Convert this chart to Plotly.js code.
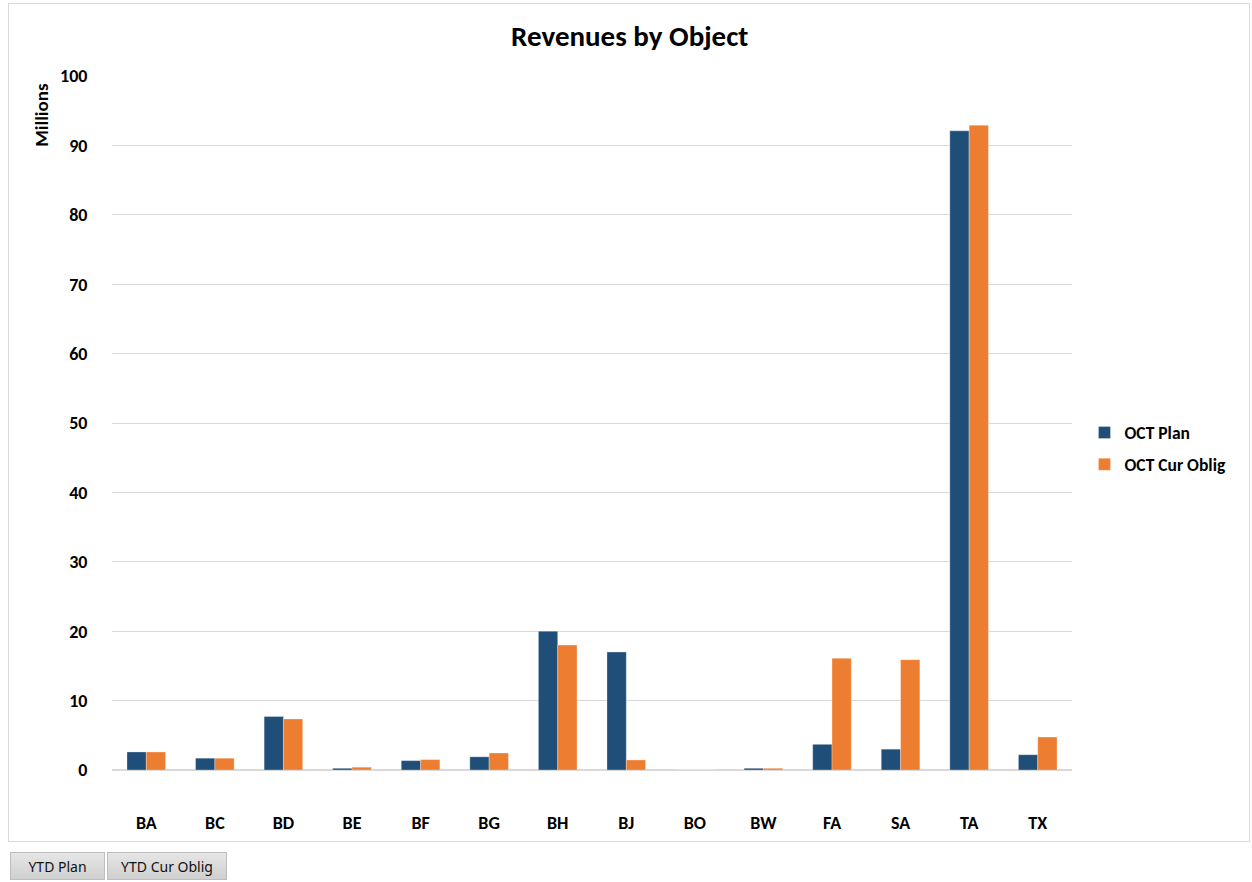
<!DOCTYPE html>
<html>
<head>
<meta charset="utf-8">
<script src="https://cdn.plot.ly/plotly-3.0.1.min.js"></script>
<style>
  html, body { margin: 0; padding: 0; background: #ffffff; }
  #frame { position: absolute; left: 8px; top: 3px; width: 1242px; height: 839px; border: 1px solid #d9d9d9; box-sizing: border-box; }
  #chart { position: absolute; left: 0; top: 0; width: 1252px; height: 882px; }
  .btn { position: absolute; top: 852px; height: 28px; line-height: 28px; background: linear-gradient(#e6e6e6, #cfcfcf); border: 1px solid #bdbdbd; box-sizing: border-box; font-family: "Noto Sans", "DejaVu Sans", sans-serif; font-size: 14px; color: #111; text-align: center; }
</style>
</head>
<body>
<div id="frame"></div>
<div id="chart"></div>
<div class="btn" style="left:10px;width:95px;">YTD Plan</div>
<div class="btn" style="left:107px;width:120px;">YTD Cur Oblig</div>
<script>
const categories = ["BA","BC","BD","BE","BF","BG","BH","BJ","BO","BW","FA","SA","TA","TX"];
const octPlan     = [2.6, 1.7, 7.7, 0.25, 1.35, 1.9, 20.0, 17.0, 0, 0.25, 3.7, 3.0, 92.1, 2.2];
const octCurOblig = [2.6, 1.7, 7.35, 0.4, 1.5, 2.45, 18.0, 1.45, 0, 0.25, 16.1, 15.9, 92.9, 4.75];
const yTicks = [0,10,20,30,40,50,60,70,80,90,100];

const FONT = "Carlito, Lato, 'Open Sans', sans-serif";

const traces = [
  { type: "bar", name: "OCT Plan", x: categories, y: octPlan, legendgroup: "a",
    marker: { color: "#1F4E79", line: { color: "rgba(255,255,255,0.6)", width: 0.5 } } },
  { type: "bar", name: "OCT Cur Oblig", x: categories, y: octCurOblig, legendgroup: "b",
    marker: { color: "#ED7D31", line: { color: "rgba(255,255,255,0.6)", width: 0.5 } } }
];

const layout = {
  width: 1252, height: 882,
  margin: { l: 112, r: 180, t: 76, b: 112 },
  paper_bgcolor: "rgba(0,0,0,0)",
  plot_bgcolor: "#ffffff",
  barmode: "group",
  bargap: 0.437,
  bargroupgap: 0,
  title: { text: "<b>Revenues by Object</b>", x: 0.503, xanchor: "center", y: 0.959, yanchor: "middle",
           font: { family: FONT, size: 29, color: "#000" } },
  xaxis: {
    type: "category",
    tickfont: { family: FONT, size: 18, color: "#000", weight: "bold" },
    ticks: "outside", ticklen: 36, tickcolor: "rgba(0,0,0,0)",
    showline: false, showgrid: false, zeroline: false
  },
  yaxis: {
    range: [0, 100],
    tickvals: yTicks, ticktext: yTicks.map(String),
    tickfont: { family: FONT, size: 18, color: "#000", weight: "bold" },
    ticks: "outside", ticklen: 20, tickcolor: "rgba(0,0,0,0)",
    showgrid: true, gridcolor: "#d9d9d9", gridwidth: 1,
    zeroline: true, zerolinecolor: "#d9d9d9", zerolinewidth: 1.5,
    showline: false, fixedrange: true
  },
  legend: {
    x: 1.013, xanchor: "left", y: 0.463, yanchor: "middle",
    font: { family: FONT, size: 17.5, color: "#000", weight: "bold" },
    traceorder: "grouped", tracegroupgap: 6,
    bgcolor: "rgba(0,0,0,0)"
  },
  annotations: [{
    text: "<b>Millions</b>", xref: "paper", yref: "paper",
    x: -0.073, y: 0.944, xanchor: "center", yanchor: "middle",
    textangle: -90, showarrow: false,
    font: { family: FONT, size: 19, color: "#000" }
  }]
};

Plotly.newPlot("chart", traces, layout, { displayModeBar: false, staticPlot: true });
</script>
</body>
</html>
